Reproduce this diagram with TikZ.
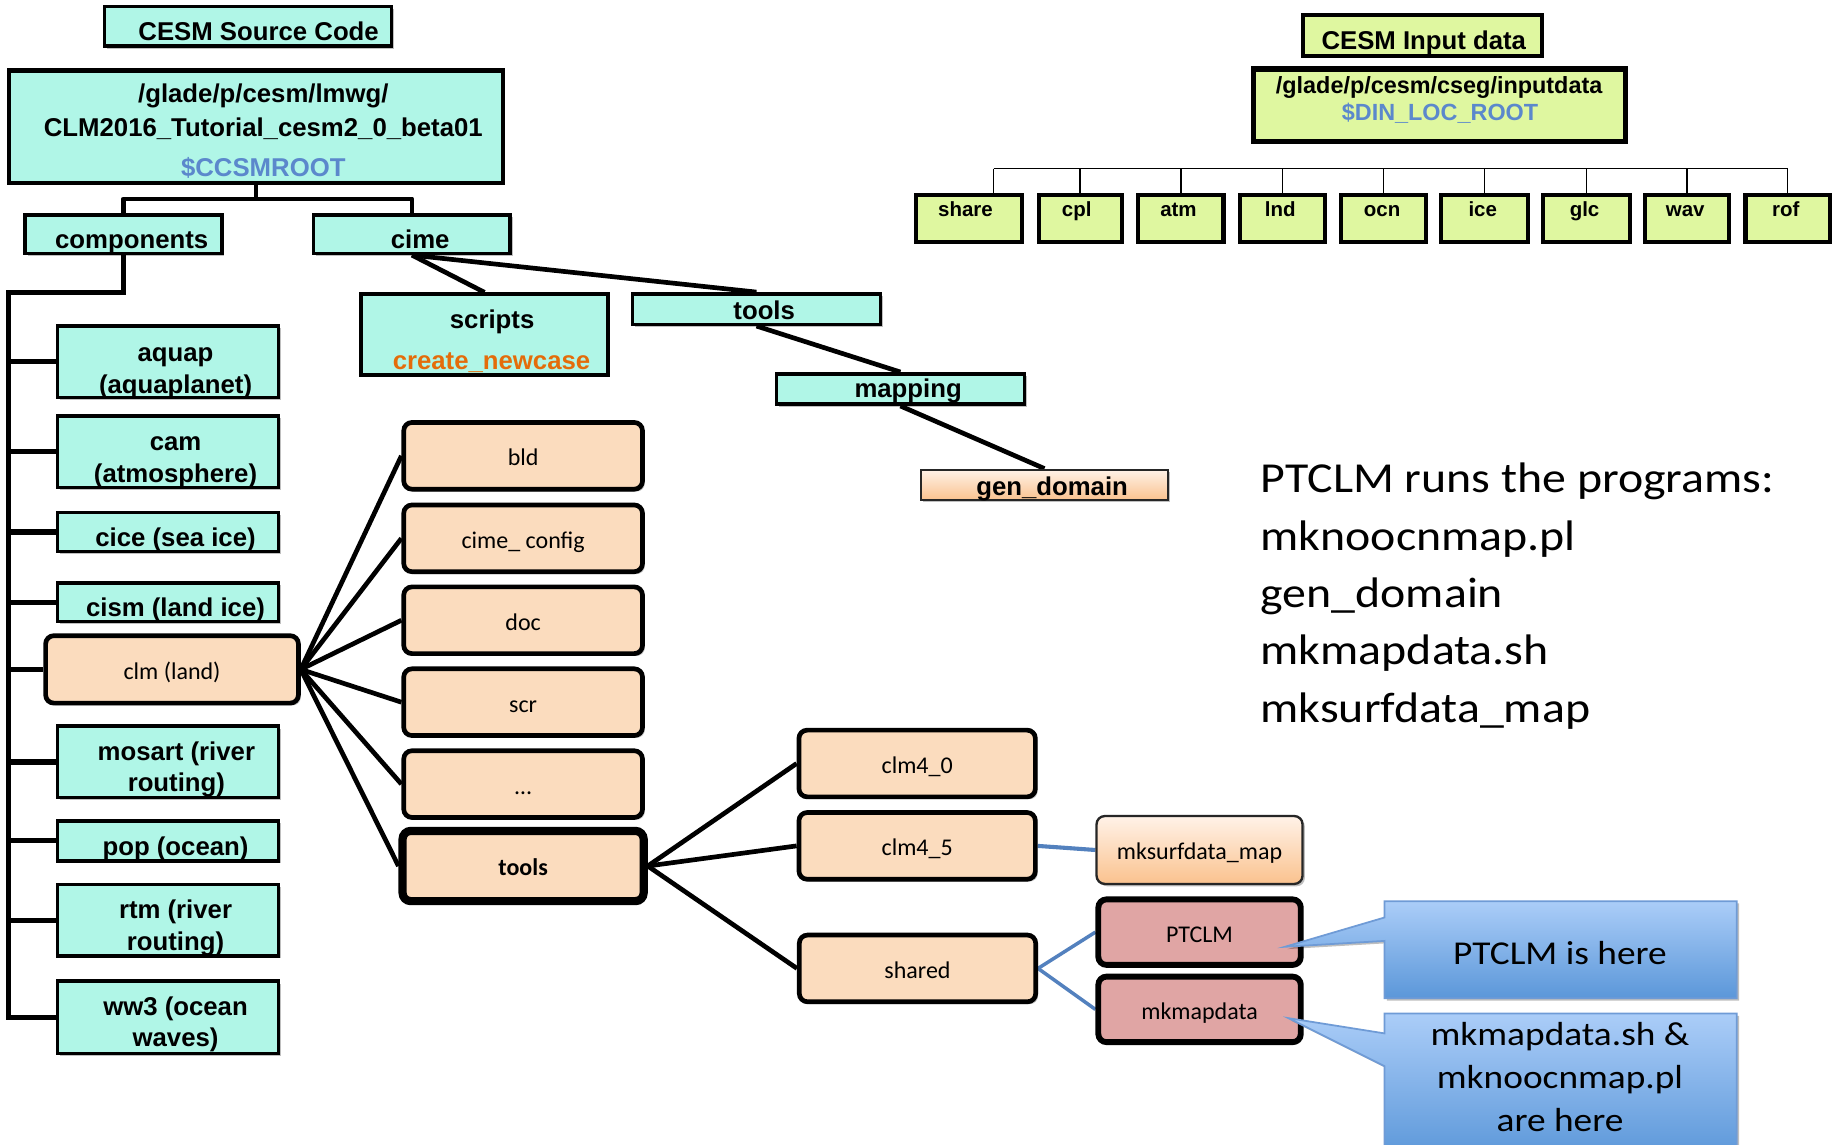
\documentclass[tikz,border=0pt]{standalone}
\usepackage{fontspec}
\setmainfont{Liberation Sans}
\newfontfamily\calfont{Carlito}
\newfontfamily\calwide[FakeStretch=1.12]{Carlito}
\usetikzlibrary{shadows}
\definecolor{mintc}{HTML}{B0F6E7}
\definecolor{peachc}{HTML}{FBDCBE}
\definecolor{pinkc}{HTML}{E0A5A4}
\definecolor{ygreen}{HTML}{DFF7A0}
\definecolor{bluetx}{HTML}{5B88CC}
\definecolor{orangetx}{HTML}{E46C0A}
\definecolor{blueln}{HTML}{5381BE}
\definecolor{calbord}{HTML}{6F9BD6}
\definecolor{caltop}{HTML}{ABCDF8}
\definecolor{calbot}{HTML}{5B97D9}
\definecolor{gtop}{HTML}{FFF2E8}
\definecolor{gbot}{HTML}{FAC28E}
\pgfdeclarelayer{bgl}
\pgfdeclarelayer{lines}
\pgfsetlayers{bgl,lines,main}
\begin{document}
\begin{tikzpicture}[x=1pt,y=-1pt,
  every node/.style={inner sep=0pt},
  shadowed/.style={drop shadow={shadow xshift=2pt,shadow yshift=-2pt,opacity=.25,fill=black}},
  mint/.style={draw=black,line width=3pt,fill=mintc,shadowed},
  ybox/.style={draw=black,line width=3.5pt,fill=ygreen,minimum height=40pt},
  peachbox/.style={draw=black,line width=4pt,fill=peachc,rounded corners=7pt,shadowed,
     font=\calfont\fontsize{20.5}{24}\selectfont,text height=19pt,text depth=2pt,
     minimum width=204pt,minimum height=57pt},
  pinkbox/.style={peachbox,fill=pinkc,line width=5pt,minimum width=173pt,minimum height=56pt},
  lbl/.style={anchor=base,font=\fontsize{22}{26}\selectfont\bfseries},
  ilbl/.style={anchor=base,font=\fontsize{20}{24}\selectfont\bfseries},
  ylbl/.style={anchor=base,font=\fontsize{17.5}{20}\selectfont\bfseries},
  bigtxt/.style={anchor=base west,font=\calwide\fontsize{36.5}{44}\selectfont},
  caltxt/.style={anchor=base,font=\calwide\fontsize{28.5}{34}\selectfont},
  conn/.style={line width=4pt,line join=round},
  bconn/.style={line width=3.5pt,draw=blueln},
  thinln/.style={line width=1.3pt},
  callout/.style={draw=calbord,line width=1.5pt,top color=caltop,bottom color=calbot,
     drop shadow={shadow xshift=2pt,shadow yshift=-2pt,opacity=.25,fill=black}},
]
\begin{pgfonlayer}{bgl}
\fill[white] (0,0) rectangle (1568,978);
\end{pgfonlayer}
\useasboundingbox (0,0) rectangle (1568,978);

% ---------------- CESM source code tree ----------------
\node[mint,minimum width=245pt,minimum height=34pt] (src) at (212,22.5) {};
\node[lbl] (src-t) at (221,35) {CESM Source Code};

\node[mint,line width=3.5pt,minimum width=422pt,minimum height=96pt] (root) at (218.8,108.2) {};
\node[lbl] (root-1) at (225,88) {/glade/p/cesm/lmwg/};
\node[lbl] (root-2) at (225,117) {CLM2016\_Tutorial\_cesm2\_0\_beta01};
\node[lbl,text=bluetx] (root-3) at (225,151) {\$CCSMROOT};

\node[mint,minimum width=168pt,minimum height=33pt] (components) at (105.5,200) {};
\node[lbl] (components-t) at (112.5,212) {components};
\node[mint,minimum width=168pt,minimum height=33pt] (cime) at (352,200) {};
\node[lbl] (cime-t) at (359,212) {cime};

\node[mint,minimum width=211pt,minimum height=69pt] (scripts) at (414,285.8) {};
\node[lbl] (scripts-t) at (420.5,280.5) {scripts};
\node[lbl,text=orangetx] (scripts-t2) at (420,316) {create\_newcase};

\node[mint,minimum width=212pt,minimum height=26pt] (ctools) at (646.4,264.1) {};
\node[lbl] (ctools-t) at (653,272.6) {tools};
\node[mint,minimum width=212pt,minimum height=26pt] (mapping) at (769.4,332.4) {};
\node[lbl] (mapping-t) at (776,340) {mapping};
\node[draw=black!85,line width=1.8pt,top color=gtop,bottom color=gbot,shadowed,
      minimum width=211pt,minimum height=26pt] (gendom) at (892.5,414.3) {};
\node[lbl] (gendom-t) at (899,423) {gen\_domain};

% components
\node[mint,minimum width=189pt,minimum height=61pt] (aquap) at (143.6,309) {};
\node[lbl] (aquap-1) at (150,309) {aquap};
\node[lbl] (aquap-2) at (150,336) {(aquaplanet)};
\node[mint,minimum width=189pt,minimum height=61pt] (cam) at (143.6,386) {};
\node[lbl] (cam-1) at (150,385) {cam};
\node[lbl] (cam-2) at (150,412) {(atmosphere)};
\node[mint,minimum width=189pt,minimum height=33pt] (cice) at (143.6,454.6) {};
\node[lbl] (cice-t) at (150,467) {cice (sea ice)};
\node[mint,minimum width=189pt,minimum height=33pt] (cism) at (143.6,514.6) {};
\node[lbl] (cism-t) at (150,527) {cism (land ice)};
\node[peachbox,minimum width=216pt,minimum height=57.6pt] (clm) at (147,572) {clm (land)};
\node[mint,minimum width=189pt,minimum height=61pt] (mosart) at (143.6,651) {};
\node[lbl] (mosart-1) at (150.7,649.6) {mosart (river};
\node[lbl] (mosart-2) at (150.7,676.6) {routing)};
\node[mint,minimum width=189pt,minimum height=34pt] (pop) at (143.6,718.5) {};
\node[lbl] (pop-t) at (150,731) {pop (ocean)};
\node[mint,minimum width=189pt,minimum height=61pt] (rtm) at (143.6,786.3) {};
\node[lbl] (rtm-1) at (150,784.6) {rtm (river};
\node[lbl] (rtm-2) at (150,812) {routing)};
\node[mint,minimum width=189pt,minimum height=61.7pt] (ww3) at (143.6,869.3) {};
\node[lbl] (ww3-1) at (150,867.5) {ww3 (ocean};
\node[lbl] (ww3-2) at (150,894.6) {waves)};

% clm children
\node[peachbox] (bld) at (447,389.5) {bld};
\node[peachbox] (cimeconfig) at (447,460) {cime\_ config};
\node[peachbox] (doc) at (447,530) {doc};
\node[peachbox] (scr) at (447,600) {scr};
\node[peachbox] (dots) at (447,670) {\textellipsis};
\node[peachbox,line width=7pt,minimum width=206pt,minimum height=60pt,
      font=\calfont\bfseries\fontsize{20.5}{24}\selectfont] (tools) at (447,740) {tools};

% tools children
\node[peachbox,minimum width=202pt] (clmfour) at (783.7,652.4) {clm4\_0};
\node[peachbox,minimum width=202pt] (clmfive) at (783.7,722.8) {clm4\_5};
\node[peachbox,minimum width=202pt] (shared) at (784,827.5) {shared};

\node[peachbox,line width=2pt,draw=black!85,top color=gtop,bottom color=gbot,
      minimum width=176pt,minimum height=58pt] (mksurf) at (1025,726.3) {mksurfdata\_map};
\node[pinkbox] (ptclm) at (1025,796.5) {PTCLM};
\node[pinkbox] (mkmap) at (1025,862.5) {mkmapdata};

% ---------------- connectors ----------------
\begin{pgfonlayer}{lines}
\draw[conn] (root.south) -- ++(0,12) coordinate (tj) -| (components.north);
\draw[conn] (tj) -| (cime.north);
\coordinate (trunktop) at (7,250);
\draw[conn,line width=4.5pt,line join=miter] (components.south) |- (trunktop) |- (ww3.west);
\foreach \n in {aquap,cam,cice,cism,clm,mosart,pop,rtm}
  \draw[conn,line width=4.5pt] (trunktop |- \n.west) -- (\n.west);
\draw[conn] (cime.south) -- (scripts.north);
\draw[conn] (cime.south) -- (ctools.north);
\draw[conn] (ctools.south) -- (mapping.north);
\draw[conn] (mapping.south) -- (gendom.north);
\foreach \n in {bld,cimeconfig,doc,scr,dots,tools}
  \draw[conn] (clm.east) -- (\n.west);
\foreach \n in {clmfour,clmfive,shared}
  \draw[conn] (tools.east) -- (\n.west);
\draw[bconn] (clmfive.east) -- (mksurf.west);
\draw[bconn,line width=3pt] (shared.east) -- (ptclm.west);
\draw[bconn,line width=3pt] (shared.east) -- (mkmap.west);
\end{pgfonlayer}

% ---------------- CESM input data ----------------
\node[ybox,minimum width=204pt,minimum height=35pt] (inhdr) at (1215.5,30) {};
\node[lbl] (inhdr-t) at (1216.6,42.7) {CESM Input data};
\node[ybox,line width=4.5pt,minimum width=318pt,minimum height=62pt] (inbig) at (1230,90) {};
\node[ilbl] (inbig-1) at (1229.7,79.8) {/glade/p/cesm/cseg/inputdata};
\node[ilbl,text=bluetx] (inbig-2) at (1230.5,102.6) {\$DIN\_LOC\_ROOT};

\node[ybox,minimum width=91pt] (share) at (828,186.5) {};
\node[ybox,minimum width=71pt] (cpl) at (923,186.5) {};
\node[ybox,minimum width=73pt] (atm) at (1009,186.5) {};
\node[ybox,minimum width=73pt] (lnd) at (1096,186.5) {};
\node[ybox,minimum width=73pt] (ocn) at (1182,186.5) {};
\node[ybox,minimum width=74pt] (ice) at (1268.5,186.5) {};
\node[ybox,minimum width=74pt] (glc) at (1355.5,186.5) {};
\node[ybox,minimum width=72pt] (wav) at (1441.5,186.5) {};
\node[ybox,minimum width=72pt] (rof) at (1527.5,186.5) {};
\node[ylbl] (share-t) at (825,185) {share};
\node[ylbl] (cpl-t) at (920,185) {cpl};
\node[ylbl] (atm-t) at (1007,185) {atm};
\node[ylbl] (lnd-t) at (1094,185) {lnd};
\node[ylbl] (ocn-t) at (1181,185) {ocn};
\node[ylbl] (ice-t) at (1267,185) {ice};
\node[ylbl] (glc-t) at (1354,185) {glc};
\node[ylbl] (wav-t) at (1440,185) {wav};
\node[ylbl] (rof-t) at (1526,185) {rof};

\coordinate (hl) at (849,144);
\draw[thinln] (hl) -- (hl -| rof.north);
\draw[thinln] (hl) -- (hl |- share.north);
\foreach \n in {cpl,atm,lnd,ocn,ice,glc,wav,rof}
  \draw[thinln] (hl -| \n.north) -- (\n.north);

% ---------------- text at right ----------------
\node[bigtxt] (prog-1) at (1077,421) {PTCLM runs the programs:};
\node[bigtxt] (prog-2) at (1077,470) {mknoocnmap.pl};
\node[bigtxt] (prog-3) at (1077,519) {gen\_domain};
\node[bigtxt] (prog-4) at (1077,568) {mkmapdata.sh};
\node[bigtxt] (prog-5) at (1077,617) {mksurfdata\_map};

% ---------------- callouts ----------------
\path[callout] (1183,770) -- (1484,770) -- (1484,853) -- (1183,853) -- (1183,804)
   -- (1098,809) -- (1183,784) -- cycle;
\node[caltxt] (call-1) at (1333,824) {PTCLM is here};
\path[callout] (1183,866) -- (1484,866) -- (1484,990) -- (1183,990) -- (1183,911)
   -- (1101,870) -- (1183,883) -- cycle;
\node[caltxt] (call-2a) at (1333,893) {mkmapdata.sh \&};
\node[caltxt] (call-2b) at (1333,930) {mknoocnmap.pl};
\node[caltxt] (call-2c) at (1333,967) {are here};
\end{tikzpicture}
\end{document}
